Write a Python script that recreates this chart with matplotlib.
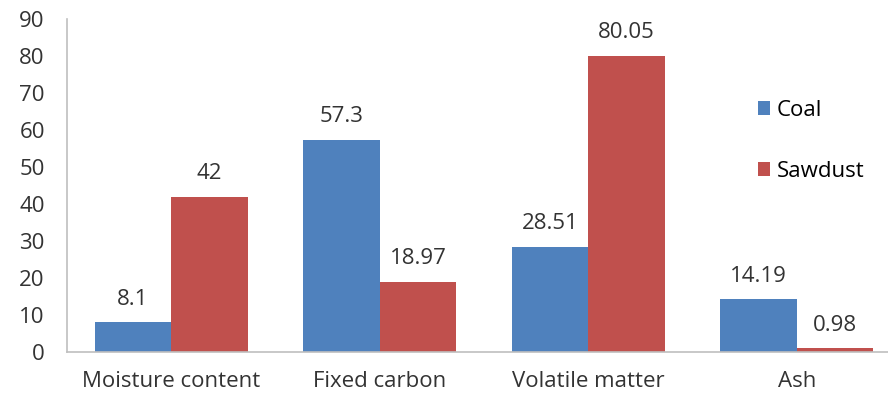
import numpy as np
import matplotlib.pyplot as plt

categories = ["Moisture content", "Fixed carbon", "Volatile matter", "Ash"]
coal = [8.1, 57.3, 28.51, 14.19]
sawdust = [42, 18.97, 80.05, 0.98]
coal_labels = ["8.1", "57.3", "28.51", "14.19"]
sawdust_labels = ["42", "18.97", "80.05", "0.98"]

plt.rcParams['font.family'] = ['Open Sans', 'DejaVu Sans']
txt_color = "#333333"
fs = 16

fig = plt.figure(figsize=(8.88, 4.04), dpi=100)
ax = fig.add_axes([67 / 888, 52 / 404, 834 / 888, 333 / 404])

x = np.arange(len(categories))
w = 0.367
b1 = ax.bar(x - w / 2, coal, w, color="#4F81BD", label="Coal")
b2 = ax.bar(x + w / 2, sawdust, w, color="#C0504D", label="Sawdust")

for bars, labs in [(b1, coal_labels), (b2, sawdust_labels)]:
    for bar, lab in zip(bars, labs):
        ax.annotate(lab, (bar.get_x() + bar.get_width() / 2, bar.get_height()),
                    xytext=(0, 9), textcoords="offset points",
                    ha="center", va="bottom", fontsize=fs, color=txt_color)

ax.set_xlim(-0.5, 3.5)
ax.set_ylim(0, 90)
ax.set_yticks(range(0, 91, 10))
ax.set_xticks(x)
ax.set_xticklabels(categories)
ax.tick_params(axis="both", length=0, labelsize=fs, colors=txt_color)
ax.tick_params(axis="y", pad=16)
ax.tick_params(axis="x", pad=14)
for s in ["top", "right"]:
    ax.spines[s].set_visible(False)
for s in ["left", "bottom"]:
    ax.spines[s].set_color("#BFBFBF")
    ax.spines[s].set_linewidth(1.2)

fig.legend(loc="upper left", bbox_to_anchor=(738 / 888, 1 - 80 / 404),
           frameon=False, fontsize=fs, handlelength=0.55, handleheight=0.55,
           handletextpad=0.3, labelspacing=1.8)

fig.savefig("out.png", dpi=100)
